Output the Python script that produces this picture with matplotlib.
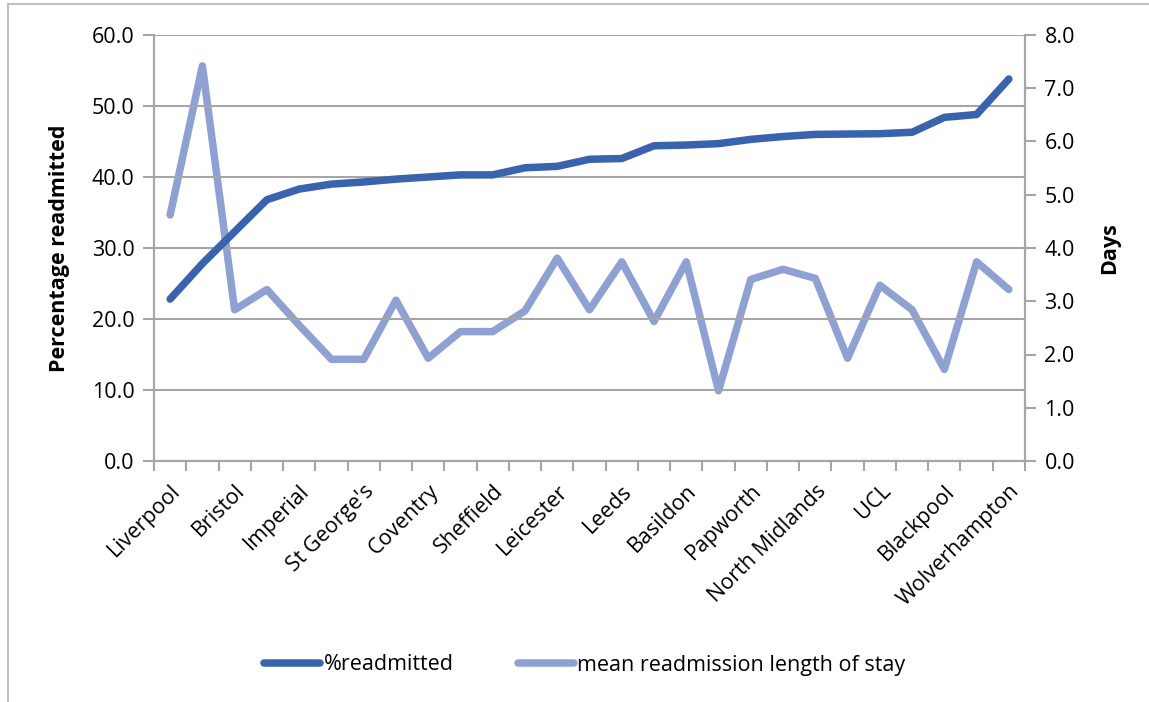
"""Readmission rate and mean readmission length of stay by centre"""

import numpy as np
from matplotlib import pyplot as plt
from matplotlib.patches import Rectangle

# data (27 centres, only every other one labelled)
tick_labels = ['Liverpool', 'Bristol', 'Imperial', "St George's", 'Coventry',
               'Sheffield', 'Leicester', 'Leeds', 'Basildon', 'Papworth',
               'North Midlands', 'UCL', 'Blackpool', 'Wolverhampton']
pct_readmitted = [22.8, 27.8, 32.3, 36.8, 38.3, 39.0, 39.3, 39.7, 40.0, 40.3,
                  40.3, 41.3, 41.5, 42.5, 42.6, 44.4, 44.5, 44.7, 45.3, 45.7,
                  46.0, 46.05, 46.1, 46.3, 48.4, 48.8, 53.8]
mean_los_days = [4.62, 7.42, 2.84, 3.22, 2.55, 1.91, 1.91, 3.02, 1.93, 2.43,
                 2.43, 2.82, 3.81, 2.84, 3.74, 2.62, 3.74, 1.32, 3.41, 3.60,
                 3.43, 1.93, 3.30, 2.84, 1.72, 3.74, 3.22]

DARK = '#3A63AD'
LIGHT = '#8EA1D2'
GRID = '#A6A6A6'
FONT = 'Open Sans'
FS = 15.5

plt.rcParams['font.family'] = FONT
plt.rcParams['font.size'] = FS

fig = plt.figure(figsize=(11.49, 7.02), dpi=100)
ax = fig.add_axes([154 / 1149, 1 - 461 / 702, (1025 - 154) / 1149, (461 - 35) / 702])
ax2 = ax.twinx()

x = np.arange(len(pct_readmitted))
line1, = ax.plot(x, pct_readmitted, color=DARK, lw=5.4, solid_capstyle='round',
                 solid_joinstyle='round', label='%readmitted', zorder=3)
line2, = ax2.plot(x, mean_los_days, color=LIGHT, lw=5.4, solid_capstyle='round',
                  solid_joinstyle='round', label='mean readmission length of stay')

ax.set_xlim(-0.5, len(x) - 0.5)
ax.set_ylim(0, 60)
ax2.set_ylim(0, 8)
ax.set_yticks(np.arange(0, 61, 10))
ax.set_yticklabels(['{:.1f}'.format(v) for v in np.arange(0, 61, 10)])
ax2.set_yticks(np.arange(0, 9, 1))
ax2.set_yticklabels(['{:.1f}'.format(v) for v in np.arange(0, 9, 1)])

# x ticks: labels on every other category, tick marks on category boundaries
ax.set_xticks(x[::2])
ax.set_xticklabels(tick_labels, rotation=45, ha='right', rotation_mode='anchor')
ax.set_xticks(np.arange(-0.5, len(x), 1), minor=True)
ax.tick_params(axis='x', which='major', length=0, pad=14)
ax.tick_params(axis='x', which='minor', length=7, width=1.5, color=GRID)
ax.tick_params(axis='y', length=8, width=1.5, color=GRID, pad=6)
ax2.tick_params(axis='y', length=8, width=1.5, color=GRID, pad=6)

ax.grid(True, axis='y', color=GRID, lw=1.5)
ax.set_axisbelow(True)
for a in (ax, ax2):
    a.spines['top'].set_visible(False)
    for side in ('left', 'right', 'bottom'):
        a.spines[side].set_color(GRID)
        a.spines[side].set_linewidth(1.5)
ax2.patch.set_visible(False)
ax.set_zorder(ax2.get_zorder() + 1)
ax.patch.set_visible(False)

fig.text(60 / 1149, 1 - 248 / 702, 'Percentage readmitted', rotation=90,
         ha='center', va='center', fontweight='bold', fontsize=FS)
fig.text(1110 / 1149, 1 - 248 / 702, 'Days', rotation=90,
         ha='center', va='center', fontweight='bold', fontsize=FS)

leg = fig.legend(handles=[line1, line2], loc='center', ncol=2,
                 bbox_to_anchor=(585 / 1149, 1 - 665 / 702), frameon=False,
                 handlelength=2.6, columnspacing=3.0, handletextpad=0.15,
                 fontsize=FS)

# chart area border
fig.patches.append(Rectangle((8 / 1149, -0.1), 1.2, 1 - 4 / 702 + 0.1,
                             transform=fig.transFigure, fill=False,
                             edgecolor='#BFBFBF', lw=1.5))

fig.savefig('out.png', dpi=100)
